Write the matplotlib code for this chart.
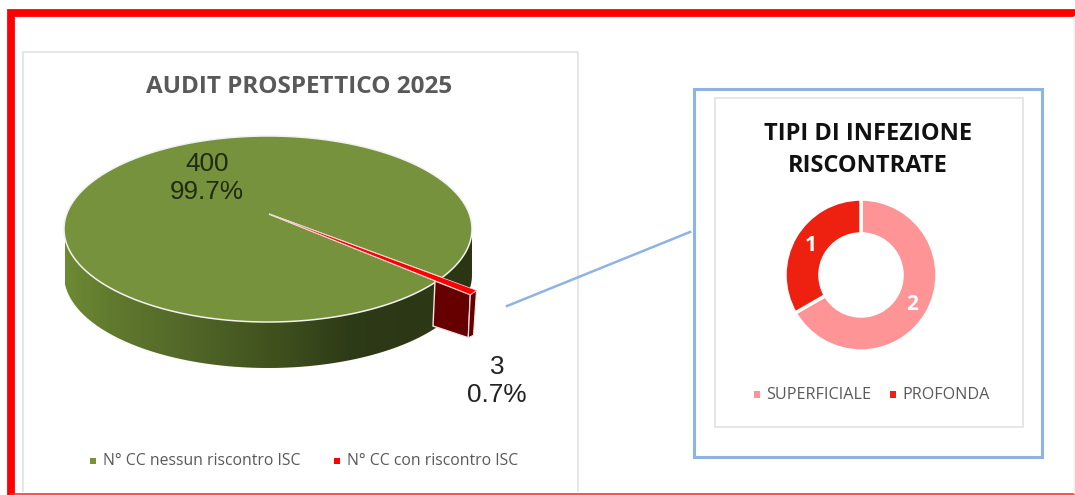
import numpy as np
import matplotlib
matplotlib.use("Agg")
import matplotlib.pyplot as plt
from matplotlib.patches import Polygon, Rectangle

# Dati
audit_labels = ["N° CC nessun riscontro ISC", "N° CC con riscontro ISC"]
audit_values = [400, 3]
audit_text = ["400\n99.7%", "3\n0.7%"]
tipi_labels = ["SUPERFICIALE", "PROFONDA"]
tipi_values = [2, 1]

# Colori
VERDE = "#76923c"
ROSSO = "#ff0000"
ROSA = "#ff9496"
ROSSO2 = "#ee2010"
BLU = "#8fb4e3"
GRIGIO = "#e4e4e4"

W, H = 1075, 495
fig = plt.figure(figsize=(W/100, H/100), dpi=100)
ax = fig.add_axes([0, 0, 1, 1])
ax.set_xlim(0, W)
ax.set_ylim(H, 0)
ax.axis("off")

# cornice rossa
ax.plot([11, 11, W], [H, 12.5, 12.5], color=ROSSO, lw=5.6, solid_joinstyle="miter", zorder=1)
ax.plot([11, W], [494, 494], color="#ff3030", lw=1.2, zorder=1)
ax.plot([1073.5, 1073.5], [16, 493], color="#fde8ec", lw=1, zorder=1)

# riquadri
ax.plot([22.5, 22.5, 578, 578], [491, 51.5, 51.5, 491], color=GRIGIO, lw=1.3, zorder=1)
ax.add_patch(Rectangle((693.5, 88.5), 348, 368, fill=False, ec=BLU, lw=2.2, zorder=1))
ax.add_patch(Rectangle((714.5, 97.5), 308, 329, fill=False, ec=GRIGIO, lw=1.3, zorder=1))
ax.plot([507, 690], [306, 232], color=BLU, lw=1.8, zorder=1)

# torta 3D
cx, cy, rx, ry = 268, 229, 204, 93
apex = np.array([269, 214])
depth = 46
t0 = 0.55  # dove inizia la fetta piccola
dt = 2*np.pi*audit_values[1]/sum(audit_values)


def bordo(t):
    return np.column_stack([cx + rx*np.cos(t), cy + ry*np.sin(t)])


# fianco con sfumatura
tb = np.linspace(0, np.pi, 200)
lato = np.vstack([bordo(tb), bordo(tb[::-1]) + [0, depth]])
fianco = Polygon(lato, closed=True, fc="none", ec="none", zorder=2)
ax.add_patch(fianco)
sx = np.array([65, 110, 200, 290, 350, 472])
sc = np.array([[0.43, 0.54, 0.20], [0.38, 0.48, 0.18], [0.31, 0.39, 0.15],
               [0.24, 0.30, 0.11], [0.18, 0.23, 0.09], [0.17, 0.21, 0.08]])
xs = np.arange(65, 473)
grad = np.stack([np.interp(xs, sx, sc[:, i]) for i in range(3)], axis=1)[None, :, :]
im = ax.imshow(grad, extent=(65, 473, 370, 220), aspect="auto", zorder=2)
im.set_clip_path(fianco)
ax.set_xlim(0, W)
ax.set_ylim(H, 0)

# faccia superiore fetta grande
tg = np.linspace(t0 + dt, t0 + 2*np.pi, 400)
ax.add_patch(Polygon(np.vstack([apex, bordo(tg)]), closed=True, fc=VERDE, ec="#f2f2f2", lw=1.1, zorder=3))

# fetta piccola staccata
tp = np.linspace(t0, t0 + dt, 10)
k = 1.2  # la fetta sporge oltre il bordo
punta = apex + (bordo(tp) - apex)*k
ax.add_patch(Polygon(np.vstack([apex, punta]), closed=True, fc=ROSSO, ec="#f7dcdc", lw=0.5, zorder=6))
est = punta[0]
inn = punta[-1]
ax.add_patch(Polygon([[435, 281], inn, inn + [-2, 43], [433, 326]], closed=True,
                     fc="#660000", ec="#f0e6e6", lw=1.0, zorder=5))
ax.add_patch(Polygon([inn, est, est + [-3, 45], inn + [-2, 43]], closed=True,
                     fc="#660000", ec="#f0e6e6", lw=0.8, zorder=5))

# testi torta
ax.text(299, 87, "AUDIT PROSPETTICO 2025", ha="center", va="center", fontsize=17.5,
        fontweight="bold", family="Open Sans", color="#595959", zorder=8)
ax.text(207, 178, audit_text[0], ha="center", va="center", fontsize=18.8, family="Liberation Sans",
        color="#1f2a12", linespacing=1.25, zorder=8)
ax.text(497, 381, audit_text[1], ha="center", va="center", fontsize=18.8, family="Liberation Sans",
        color="#222222", linespacing=1.25, zorder=8)

# legenda torta
for x, col, lab in zip([93, 337], [VERDE, ROSSO], audit_labels):
    ax.add_patch(Rectangle((x - 3, 458), 6, 6, fc=col, ec="none", zorder=8))
    ax.text(x + 10, 461, lab, ha="left", va="center", fontsize=11.3, family="Open Sans", color="#595959", zorder=8)

# titolo ciambella
ax.text(868, 150, "TIPI DI INFEZIONE\nRISCONTRATE", ha="center", va="center", fontsize=17,
        fontweight="bold", family="Open Sans", color="#111111", linespacing=1.5, zorder=8)

# ciambella
r = 76
dx, dy = 861, 275
ax2 = fig.add_axes([(dx - r)/W, 1 - (dy + r)/H, 2*r/W, 2*r/H])
ws, _ = ax2.pie(tipi_values, colors=[ROSA, ROSSO2], startangle=90, counterclock=False, radius=1,
                wedgeprops=dict(width=0.46, edgecolor="white", linewidth=2.5))
ax2.set_xlim(-1, 1)
ax2.set_ylim(-1, 1)
for w, v in zip(ws, tipi_values):
    a = np.deg2rad((w.theta1 + w.theta2)/2)
    ax2.text(0.77*np.cos(a), 0.77*np.sin(a), str(v), ha="center", va="center", color="white",
             fontsize=15, fontweight="bold", family="Open Sans")

# legenda ciambella
for x, col, lab in zip([757, 893], [ROSA, ROSSO2], tipi_labels):
    ax.add_patch(Rectangle((x - 3, 391), 6, 7, fc=col, ec="none", zorder=8))
    ax.text(x + 9, 395, lab, ha="left", va="center", fontsize=11.6, family="Open Sans", color="#595959", zorder=8)

fig.savefig("out.png", dpi=100)
